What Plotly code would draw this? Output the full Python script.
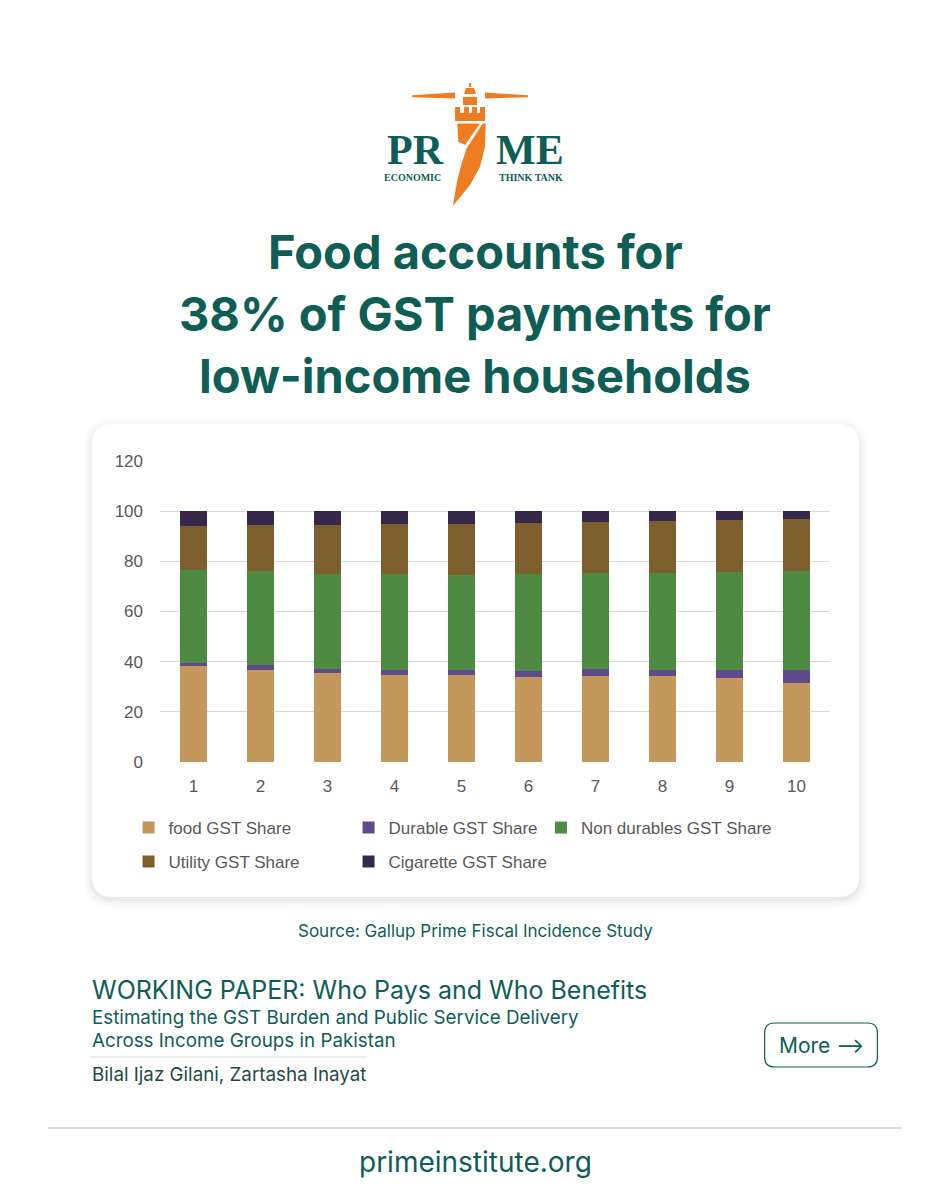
import plotly.graph_objects as go

# ---------------- data ----------------
deciles = ["1", "2", "3", "4", "5", "6", "7", "8", "9", "10"]
food_share = [38.1, 36.8, 35.3, 34.7, 34.6, 34.0, 34.3, 34.3, 33.5, 31.5]
durable_share = [1.5, 2.0, 1.9, 2.1, 1.9, 2.3, 2.8, 2.2, 3.0, 5.0]
nondurable_share = [36.8, 37.2, 37.8, 38.2, 38.1, 38.7, 38.2, 38.8, 39.1, 39.5]
utility_share = [17.6, 18.3, 19.3, 19.7, 20.1, 20.2, 20.2, 20.7, 20.8, 20.9]
cigarette_share = [6.0, 5.7, 5.7, 5.3, 5.3, 4.8, 4.5, 4.0, 3.6, 3.1]
y_ticks = [0, 20, 40, 60, 80, 100, 120]

series = [
    ("food GST Share", food_share, "#C4975A", "legend"),
    ("Durable GST Share", durable_share, "#5F4B8B", "legend"),
    ("Non durables GST Share", nondurable_share, "#4E8A42", "legend3"),
    ("Utility GST Share", utility_share, "#7D5E2D", "legend2"),
    ("Cigarette GST Share", cigarette_share, "#35284A", "legend2"),
]

TEAL = "#0E5E56"
ORANGE = "#EE7D22"
OFF = 8  # page body margin
W, H = 950 - OFF, 1200 - OFF
PL, PR_, PT, PB = 159.5, 830.5, 461.0, 762.0   # target page pixel coords of plot area


def px(x):
    return (x - PL) / (PR_ - PL)


def py(y):
    return (PB - y) / (PB - PT)


def path(points, close=True):
    s = "M " + " L ".join(f"{px(x):.5f},{py(y):.5f}" for x, y in points)
    return s + (" Z" if close else "")


def rounded_rect(x0, y0, x1, y1, r):
    def P(x, y):
        return f"{px(x):.5f},{py(y):.5f}"
    return (f"M {P(x0 + r, y0)} L {P(x1 - r, y0)} Q {P(x1, y0)} {P(x1, y0 + r)} "
            f"L {P(x1, y1 - r)} Q {P(x1, y1)} {P(x1 - r, y1)} "
            f"L {P(x0 + r, y1)} Q {P(x0, y1)} {P(x0, y1 - r)} "
            f"L {P(x0, y0 + r)} Q {P(x0, y0)} {P(x0 + r, y0)} Z")


fig = go.Figure()
for name, vals, col, lg in series:
    fig.add_trace(go.Bar(x=deciles, y=vals, name=name, legend=lg,
                         marker=dict(color=col, line=dict(width=0))))

shapes = []
# card shadow + card
for grow, op in [(9, 0.012), (6, 0.018), (3, 0.025), (1, 0.03)]:
    shapes.append(dict(type="path", xref="paper", yref="paper", layer="below",
                       path=rounded_rect(91 - grow, 424 - grow + 3, 860 + grow, 897 + grow + 3, 22 + grow),
                       fillcolor=f"rgba(0,0,0,{op})", line=dict(width=0)))
shapes.append(dict(type="path", xref="paper", yref="paper", layer="below",
                   path=rounded_rect(91, 424, 860, 897, 22), fillcolor="white",
                   line=dict(width=0)))

# ---- logo (lighthouse) ----
logo_polys = [
    [(412, 95.3), (455, 92.5), (455, 98.5), (412, 97.3)],         # left beam
    [(485, 92.5), (528, 95.3), (528, 97.3), (485, 98.5)],         # right beam
    [(469, 83), (471, 83), (471, 87), (469, 87)],                 # finial
    [(464, 94), (466, 88), (474, 88), (476, 94)],                 # dome
    [(463, 97), (477, 97), (477, 105), (463, 105)],               # lantern
    [(455, 113), (485, 113), (485, 121), (455, 121)],             # gallery
    [(455, 107), (460, 107), (460, 113), (455, 113)],             # merlons
    [(464, 107), (469, 107), (469, 113), (464, 113)],
    [(472, 107), (477, 107), (477, 113), (472, 113)],
    [(480, 107), (485, 107), (485, 113), (480, 113)],
    [(457.3, 123.5), (480, 123.5), (465, 145), (458.3, 141.7)],   # upper tower piece
    [(482.7, 123.5), (485.7, 123.5), (485, 146.7), (480, 166.7), (470, 185),
     (452.7, 206), (457.3, 180), (461.7, 163.3), (466.7, 148.3)],  # blade
]
for poly in logo_polys:
    shapes.append(dict(type="path", xref="paper", yref="paper", path=path(poly),
                       fillcolor=ORANGE, line=dict(width=0)))

# divider under subtitle, More button, bottom rule
shapes.append(dict(type="line", xref="paper", yref="paper", x0=px(90), x1=px(367),
                   y0=py(1057), y1=py(1057), line=dict(color="#D9DEDD", width=1)))
shapes.append(dict(type="path", xref="paper", yref="paper",
                   path=rounded_rect(765, 1023, 878, 1067, 10), fillcolor="white",
                   line=dict(color=TEAL, width=1.2)))
shapes.append(dict(type="line", xref="paper", yref="paper", x0=px(47), x1=px(903),
                   y0=py(1128), y1=py(1128), line=dict(color="#A9BFBC", width=1.2)))

annotations = []


def txt(text, x, y, size, color=TEAL, family="Inter", xanchor="center", weight=None):
    f = dict(size=size, color=color, family=family)
    if weight:
        f["weight"] = weight
    annotations.append(dict(text=text, x=px(x), y=py(y), xref="paper", yref="paper",
                            showarrow=False, xanchor=xanchor, yanchor="middle", font=f))


# logo text
txt("PR", 446, 150, 42, TEAL, "Liberation Serif", "right", 700)
txt("ME", 494, 150, 42, TEAL, "Liberation Serif", "left", 700)
txt("ECONOMIC", 443, 177, 10, TEAL, "Liberation Serif", "right", 700)
txt("THINK TANK", 497, 177, 10, TEAL, "Liberation Serif", "left", 700)

# title
txt("Food accounts for", 475, 251, 47, TEAL, "Inter", "center", 700)
txt("38% of GST payments for", 475, 313, 47, TEAL, "Inter", "center", 700)
txt("low-income households", 475, 375, 47, TEAL, "Inter", "center", 700)

# footer texts
txt("Source: Gallup Prime Fiscal Incidence Study", 475, 931, 17, TEAL, "Inter")
txt("WORKING PAPER: Who Pays and Who Benefits", 89, 990, 25, TEAL, "Inter", "left")
txt("Estimating the GST Burden and Public Service Delivery", 89, 1017, 18.8, TEAL, "Inter", "left")
txt("Across Income Groups in Pakistan", 89, 1040, 18.8, TEAL, "Inter", "left")
txt("Bilal Ijaz Gilani, Zartasha Inayat", 89, 1074, 18.8, "#1F4A45", "Inter", "left")
txt("More \u27f6", 822, 1045, 21, TEAL, "Inter", "center")
txt("primeinstitute.org", 475, 1162, 28, TEAL, "Inter", "center")

legend_common = dict(orientation="h", xanchor="left", yanchor="middle",
                     traceorder="normal",
                     font=dict(size=17, color="#595959", family="Liberation Sans"),
                     bgcolor="rgba(0,0,0,0)", itemwidth=30)

fig.update_layout(
    width=W, height=H,
    margin=dict(l=PL - OFF, r=(950 - PR_), t=PT - OFF, b=(1200 - PB), pad=0),
    paper_bgcolor="white", plot_bgcolor="rgba(0,0,0,0)",
    barmode="stack", bargap=0.6,
    font=dict(family="Liberation Sans", size=17, color="#595959"),
    showlegend=True,
    legend=dict(x=px(128), y=py(828), entrywidth=175, entrywidthmode="pixels", **legend_common),
    legend2=dict(x=px(128), y=py(862), entrywidth=175, entrywidthmode="pixels", **legend_common),
    legend3=dict(x=px(541), y=py(828), **legend_common),
    shapes=shapes, annotations=annotations,
)
fig.update_yaxes(range=[0, 120], tickvals=y_ticks, showgrid=True, gridcolor="#D9D9D9",
                 gridwidth=1, zeroline=False, showline=False, ticks="",
                 ticklabelstandoff=16, tickfont=dict(size=17, color="#595959"))
fig.update_xaxes(showgrid=False, showline=False, ticks="", ticklabelstandoff=12,
                 tickfont=dict(size=17, color="#595959"))

fig.write_html("out.html")
